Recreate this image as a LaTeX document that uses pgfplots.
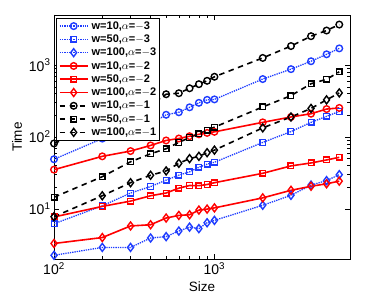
\documentclass[border=0pt]{standalone}
\usepackage{fontspec}
\setmainfont{Liberation Sans}
\usepackage{pgfplots}
\pgfplotsset{compat=1.18}
\definecolor{mblue}{RGB}{30,60,255}
\begin{document}
\begin{tikzpicture}
\useasboundingbox (0,0) rectangle (382pt,300pt);
\begin{axis}[
  at={(54pt,41pt)}, anchor=south west,
  scale only axis, width=296pt, height=244pt,
  xmode=log, ymode=log,
  xmin=100, xmax=7000, ymin=2, ymax=5000,
  xtick={100,1000}, xticklabels={10\textsuperscript{2},10\textsuperscript{3}},
  ytick={10,100,1000}, yticklabels={10\textsuperscript{1},10\textsuperscript{2},10\textsuperscript{3}},
  ticklabel style={font=\fontsize{14}{14}\selectfont},
  label style={font=\fontsize{13.5}{14}\selectfont},
  xlabel={Size}, ylabel={Time},
  major tick length=5pt, minor tick length=3pt,
  axis line style={line width=0.8pt},
  tick style={line width=0.6pt, black},
  legend cell align=left,
  legend style={at={(0.007,0.988)}, anchor=north west, font=\bfseries\fontsize{11}{11}\selectfont,
    inner sep=1.2pt, row sep=0.1pt, draw=black, line width=0.8pt},
  legend image code/.code={\path[draw=none,fill=none] (-2pt,0pt) (30pt,0pt);\draw[mark repeat=2,mark phase=2] plot coordinates {(0pt,0pt) (14pt,0pt) (28pt,0pt)};},
]
% w=10, a=-3
\addplot[mblue, densely dotted, line width=1.3pt, mark=o, mark size=3.3pt, mark options={solid, line width=1.4pt}] coordinates {
(100,49) (200,95) (300,125) (400,153) (500,204) (600,221) (700,259) (800,299) (900,329) (1000,334)
(2000,641) (3000,881) (4000,1135) (5000,1418) (6000,1714)};
\addlegendentry{w=10,$\alpha$=$-$3}
% w=50, a=-3
\addplot[mblue, densely dotted, line width=1.3pt, mark=square, mark size=2.8pt, mark options={solid, line width=1.4pt}] coordinates {
(100,6.2) (200,11.0) (300,16.6) (400,20.4) (500,25.1) (600,29.4) (700,32.7) (800,37.9) (900,41.8) (1000,44.5)
(2000,84) (3000,119) (4000,160) (5000,194) (6000,227)};
\addlegendentry{w=50,$\alpha$=$-$3}
% w=100, a=-3
\addplot[mblue, densely dotted, line width=1.3pt, mark=diamond, mark size=4pt, mark options={solid, line width=1.4pt}] coordinates {
(100,2.25) (200,2.9) (300,2.9) (400,3.92) (500,4.1) (600,4.9) (700,5.56) (800,5.3) (900,6.4) (1000,6.9)
(2000,11.2) (3000,15.4) (4000,21.4) (5000,24.7) (6000,29.9)};
\addlegendentry{w=100,$\alpha$=$-$3}
% w=10, a=-2
\addplot[red, solid, line width=1.6pt, mark=o, mark size=3.3pt, mark options={solid, line width=1.4pt}] coordinates {
(100,35.1) (200,53.8) (300,63.7) (400,76.3) (500,89.5) (600,95.3) (700,102.6) (800,109) (900,114) (1000,118)
(2000,160) (3000,190) (4000,211) (5000,245) (6000,254)};
\addlegendentry{w=10,$\alpha$=$-$2}
% w=50, a=-2
\addplot[red, solid, line width=1.6pt, mark=square, mark size=2.8pt, mark options={solid, line width=1.4pt}] coordinates {
(100,7.7) (200,10.8) (300,12.8) (400,15.2) (500,16.6) (600,19.4) (700,21.1) (800,21.0) (900,21.8) (1000,23.1)
(2000,31.2) (3000,39.6) (4000,43.5) (5000,47.9) (6000,52.1)};
\addlegendentry{w=50,$\alpha$=$-$2}
% w=100, a=-2
\addplot[red, solid, line width=1.6pt, mark=diamond, mark size=4pt, mark options={solid, line width=1.4pt}] coordinates {
(100,3.29) (200,3.98) (300,5.77) (400,6.0) (500,7.44) (600,8.09) (700,8.27) (800,9.6) (900,9.9) (1000,10.3)
(2000,14.2) (3000,18.1) (4000,20.6) (5000,22.3) (6000,24.3)};
\addlegendentry{w=100,$\alpha$=$-$2}
% w=10, a=-1
\addplot[black, dash pattern=on 5.5pt off 4.5pt, line width=1.6pt, mark=o, mark size=3.3pt, mark options={solid, line width=1.4pt}] coordinates {
(100,81.3) (200,150) (300,215) (400,281) (500,394) (600,407) (700,477) (800,544) (900,606) (1000,690)
(2000,1262) (3000,1847) (4000,2535) (5000,3040) (6000,3680)};
\addlegendentry{w=10,$\alpha$=$-$1}
% w=50, a=-1
\addplot[black, dash pattern=on 5.5pt off 4.5pt, line width=1.6pt, mark=square, mark size=2.8pt, mark options={solid, line width=1.4pt}] coordinates {
(100,14.5) (200,28.0) (300,45.2) (400,58.3) (500,68.7) (600,84) (700,98.4) (800,111) (900,124) (1000,137)
(2000,262) (3000,377) (4000,552) (5000,635) (6000,809)};
\addlegendentry{w=50,$\alpha$=$-$1}
% w=100, a=-1
\addplot[black, dash pattern=on 5.5pt off 4.5pt, line width=1.6pt, mark=diamond, mark size=4pt, mark options={solid, line width=1.4pt}] coordinates {
(100,7.76) (200,15.2) (300,23.1) (400,29.3) (500,33.7) (600,43.0) (700,50.0) (800,53.8) (900,60.5) (1000,65.6)
(2000,134) (3000,190) (4000,250) (5000,329) (6000,411)};
\addlegendentry{w=100,$\alpha$=$-$1}
\end{axis}
\end{tikzpicture}
\end{document}
